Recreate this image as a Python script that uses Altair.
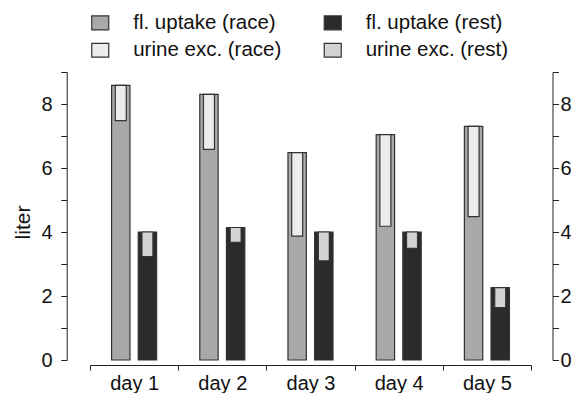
import altair as alt
import pandas as pd

days = ["day 1", "day 2", "day 3", "day 4", "day 5"]
groups = ["race", "rest"]
uptake_race = [8.58, 8.30, 6.48, 7.04, 7.30]
uptake_rest = [4.00, 4.14, 4.00, 4.00, 2.26]
urine_race = [1.10, 1.72, 2.61, 2.86, 2.82]
urine_rest = [0.77, 0.46, 0.90, 0.51, 0.62]
series_names = ["fl. uptake (race)", "fl. uptake (rest)",
                "urine exc. (race)", "urine exc. (rest)"]
series_colors = ["#a9a9a9", "#2b2b2b", "#ececec", "#d3d3d3"]
y_ticks = list(range(0, 10))

rows_up = []
rows_ur = []
for i, d in enumerate(days):
    rows_up.append({"day": d, "group": "race", "series": series_names[0], "lo": 0, "hi": uptake_race[i]})
    rows_up.append({"day": d, "group": "rest", "series": series_names[1], "lo": 0, "hi": uptake_rest[i]})
    rows_ur.append({"day": d, "group": "race", "series": series_names[2],
                    "lo": uptake_race[i] - urine_race[i], "hi": uptake_race[i]})
    rows_ur.append({"day": d, "group": "rest", "series": series_names[3],
                    "lo": uptake_rest[i] - urine_rest[i], "hi": uptake_rest[i]})
df_up = pd.DataFrame(rows_up)
df_ur = pd.DataFrame(rows_ur)

axis_color = "#222222"

x_enc = alt.X("day:N",
              scale=alt.Scale(domain=days, paddingInner=0, paddingOuter=0),
              axis=alt.Axis(title=None, offset=5, tickSize=5, tickBand="extent",
                            labelFontSize=20, labelPadding=3, labelAngle=0,
                            domainColor=axis_color, tickColor=axis_color,
                            labelColor="#111111"))
xo_enc = alt.XOffset("group:N",
                     scale=alt.Scale(domain=groups, paddingInner=0.31, paddingOuter=0.81))
color_enc = alt.Color("series:N",
                      scale=alt.Scale(domain=series_names, range=series_colors),
                      legend=alt.Legend(title=None, orient="none", legendX=0, legendY=-59.5,
                                        columns=2, direction="horizontal",
                                        symbolType="M-1,-0.82H1V0.82H-1Z", symbolSize=289,
                                        symbolStrokeColor="#333333", symbolStrokeWidth=1.2,
                                        labelFontSize=20.5, labelOffset=22.7, labelColor="#111111",
                                        columnPadding=39.5, rowPadding=6.5, padding=0))
y_scale = alt.Scale(domain=[0, 9], nice=False)

uptake = alt.Chart(df_up).mark_bar(stroke="#333333", strokeWidth=1.2).encode(
    x=x_enc,
    xOffset=xo_enc,
    y=alt.Y("hi:Q", scale=y_scale,
            axis=alt.Axis(title="liter", orient="left", values=y_ticks, offset=23.3,
                          tickSize=6, labelPadding=8.5, labelFontSize=20, grid=False,
                          labelExpr="datum.value % 2 === 0 ? datum.label : ''",
                          titleFontSize=21, titleFontWeight="normal", titlePadding=8,
                          titleY=150, titleColor="#111111",
                          domainColor=axis_color, tickColor=axis_color, labelColor="#111111")),
    y2="lo:Q",
    color=color_enc,
)

urine = alt.Chart(df_ur).mark_bar(width=11, stroke="#333333", strokeWidth=1.2).encode(
    x=x_enc,
    xOffset=xo_enc,
    y=alt.Y("hi:Q", scale=y_scale,
            axis=alt.Axis(title=None, orient="right", values=y_ticks, offset=21.5,
                          tickSize=6, labelPadding=1.5, labelFontSize=20, grid=False,
                          labelExpr="datum.value % 2 === 0 ? datum.label : ''",
                          domainColor=axis_color, tickColor=axis_color, labelColor="#111111")),
    y2="lo:Q",
    color=color_enc,
)

chart = alt.layer(uptake, urine).resolve_scale(y="shared").resolve_axis(y="independent").properties(
    width=441, height=288,
    padding={"left": 82, "top": 64, "right": 40, "bottom": 33},
    autosize=alt.AutoSizeParams(type="none"),
).configure(font="Liberation Sans").configure_view(stroke=None)

chart.save("out.html", embed_options={"renderer": "svg", "actions": False})
